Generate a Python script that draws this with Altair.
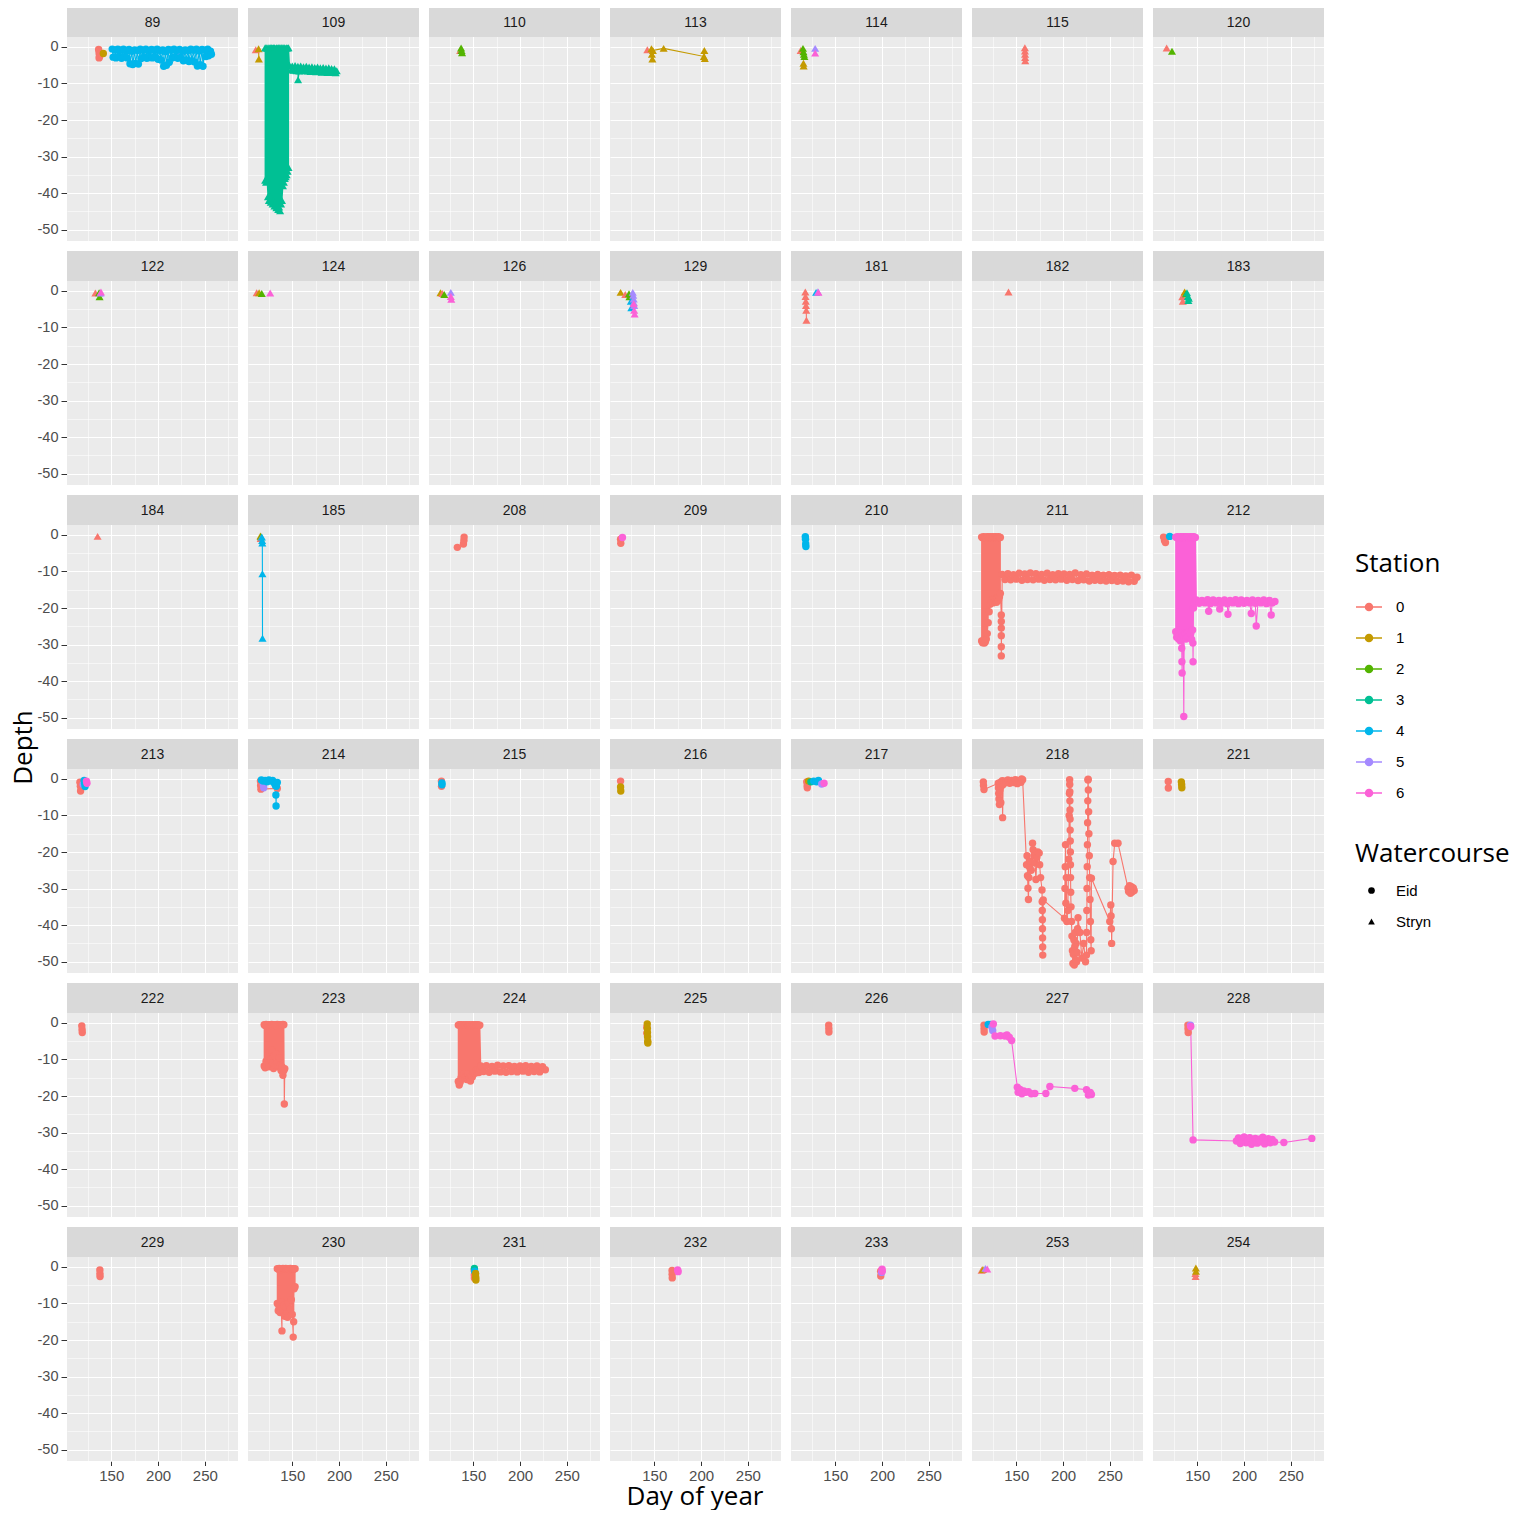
import altair as alt
import pandas as pd

STATIONS = ["0", "1", "2", "3", "4", "5", "6"]
STATION_COLORS = ["#F8766D", "#C49A00", "#53B400", "#00C094", "#00B6EB", "#A58AFF", "#FB61D7"]
PANELS = [89, 109, 110, 113, 114, 115, 120, 122, 124, 126, 129, 181, 182, 183, 184, 185,
          208, 209, 210, 211, 212, 213, 214, 215, 216, 217, 218, 221, 222, 223, 224, 225,
          226, 227, 228, 229, 230, 231, 232, 233, 253, 254]
STRYN = [109, 110, 113, 114, 115, 120, 122, 124, 126, 129, 181, 182, 183, 184, 185, 253, 254]
X_TICKS = [125, 150, 175, 200, 225, 250, 275]
Y_TICKS = [-50, -45, -40, -35, -30, -25, -20, -15, -10, -5, 0, 5]

# ---------------- panel 89 (Eid)
p89_s0_day = [136.5, 137.0, 137.2, 137.5, 137.0]
p89_s0_dep = [-0.7, -1.4, -2.0, -2.6, -3.0]
p89_s1_day = [141.5]
p89_s1_dep = [-1.8]
p89_s5_day = [224.0]
p89_s5_dep = [-1.6]
p89_s4_day = [151, 152, 154, 155, 157, 158, 160, 161, 163, 164, 166, 167, 169, 170, 172, 173, 175, 176,
              178, 179, 181, 182, 184, 185, 187, 188, 190, 191, 193, 194, 196, 197, 199, 200, 202, 203,
              205, 206, 208, 209, 211, 212, 214, 215, 217, 218, 220, 221, 223, 224, 226, 227, 229, 230,
              232, 233, 235, 236, 238, 239, 241, 242, 244, 245, 247, 248, 250, 251, 253, 254, 256, 257]
p89_s4_dep = [-0.6, -2.8, -0.8, -3.0, -0.6, -2.6, -0.9, -3.1, -0.6, -2.7, -1.0, -3.0, -0.7, -4.6, -1.2, -4.8,
              -0.8, -4.5, -1.0, -4.7, -0.6, -3.2, -0.9, -2.8, -0.6, -3.1, -1.1, -2.9, -0.7, -3.0, -0.9, -2.7,
              -0.6, -3.4, -1.0, -3.6, -0.8, -5.3, -1.3, -5.0, -0.7, -4.2, -0.9, -3.0, -0.6, -2.8, -1.0, -3.1,
              -0.7, -2.9, -1.2, -3.8, -0.8, -3.6, -1.0, -4.0, -0.6, -3.8, -0.9, -4.1, -0.6, -5.2, -1.1, -4.9,
              -0.7, -5.3, -0.9, -2.6, -0.6, -2.4, -1.2, -2.0]

# ---------------- panel 109 (Stryn)
p109_s0_day = [111.0]
p109_s0_dep = [-0.8]
p109_s1_day = [114.0, 114.3]
p109_s1_dep = [-0.5, -3.3]
p109_s3_day = [121, 121, 122, 122, 123, 123, 124, 124, 125, 125, 126, 126, 127, 127, 128, 128, 129, 129,
               130, 130, 131, 131, 132, 132, 133, 133, 134, 134, 135, 135, 136, 136, 137, 137, 138, 138,
               139, 139, 140, 140, 141, 141, 142, 142, 143, 143, 144, 144, 145, 145, 146, 146,
               147, 148.5, 150, 151.5, 153, 154.5, 156, 156.2, 157.5, 159, 160.5, 162, 163.5, 165, 166.5,
               168, 169.5, 171, 172.5, 174, 175.5, 177, 178.5, 180, 181.5, 183, 184.5, 186, 187.5, 189,
               190.5, 192, 193.5, 195, 196.5, 197.5]
p109_s3_dep = [-0.2, -36.5, -37.0, -0.3, -0.2, -36.0, -41.0, -0.4, -0.2, -42.0, -40.5, -0.3, -0.2, -42.5,
               -41.5, -0.2, -0.3, -43.0, -42.0, -0.2, -0.2, -43.5, -42.5, -0.4, -0.2, -44.0, -43.5, -0.3,
               -0.2, -44.5, -43.8, -0.2, -0.3, -44.8, -43.0, -0.2, -0.2, -42.0, -38.0, -0.3, -0.2, -37.0,
               -36.0, -0.2, -0.4, -35.5, -35.0, -0.2, -0.3, -34.0, -33.0, -0.2,
               -5.0, -6.3, -5.2, -6.4, -5.1, -6.5, -5.3, -9.0, -6.6, -5.2, -6.4, -5.4, -6.5, -5.3, -6.6,
               -5.5, -6.7, -5.4, -6.6, -5.6, -6.8, -5.5, -6.7, -5.7, -6.9, -5.6, -6.8, -5.8, -7.0, -5.7,
               -6.9, -5.9, -7.0, -6.0, -7.1, -6.5]

# ---------------- small Stryn panels
p110_s0_day = [136.0]
p110_s0_dep = [-1.0]
p110_s2_day = [137.0, 137.5, 138.0]
p110_s2_dep = [-0.3, -1.0, -1.6]
p113_s0_day = [142.6]
p113_s0_dep = [-0.8]
p113_s1_day = [147.0, 147.5, 148.0, 148.5, 160.0, 203.0, 203.5, 204.0]
p113_s1_dep = [-0.5, -2.0, -3.3, -1.0, -0.4, -2.6, -1.0, -3.2]
p114_s0_day = [113.0]
p114_s0_dep = [-1.0]
p114_s2_day = [115.5, 116.0, 116.5, 117.0]
p114_s2_dep = [-0.4, -1.3, -2.0, -2.6]
p114_s1_day = [116.0, 116.2]
p114_s1_dep = [-4.5, -5.2]
p114_s5_day = [128.5]
p114_s5_dep = [-0.4]
p114_s6_day = [128.5]
p114_s6_dep = [-1.7]
p115_s0_day = [159.2, 159.3, 159.4, 159.5, 159.6]
p115_s0_dep = [-0.2, -1.1, -2.0, -2.9, -3.8]
p120_s0_day = [117.3]
p120_s0_dep = [-0.3]
p120_s2_day = [123.0]
p120_s2_dep = [-1.2]
p122_s0_day = [133.0]
p122_s0_dep = [-0.6]
p122_s2_day = [137.0, 137.5]
p122_s2_dep = [-0.5, -1.6]
p122_s5_day = [138.5]
p122_s5_dep = [-0.6]
p122_s6_day = [139.0]
p122_s6_dep = [-0.3]
p124_s0_day = [112.0]
p124_s0_dep = [-0.5]
p124_s1_day = [114.6]
p124_s1_dep = [-0.5]
p124_s2_day = [117.4]
p124_s2_dep = [-0.7]
p124_s6_day = [126.4]
p124_s6_dep = [-0.6]
p126_s1_day = [115.0]
p126_s1_dep = [-0.5]
p126_s0_day = [117.0]
p126_s0_dep = [-0.7]
p126_s2_day = [119.0]
p126_s2_dep = [-1.0]
p126_s5_day = [126.0]
p126_s5_dep = [-0.4]
p126_s6_day = [126.0, 126.5]
p126_s6_dep = [-1.5, -2.3]
p129_s1_day = [114.0]
p129_s1_dep = [-0.4]
p129_s0_day = [119.0]
p129_s0_dep = [-1.0]
p129_s2_day = [123.0, 123.5]
p129_s2_dep = [-0.8, -1.6]
p129_s4_day = [125.0, 125.5]
p129_s4_dep = [-2.8, -4.6]
p129_s5_day = [127.0, 127.5, 128.0, 128.1, 128.5]
p129_s5_dep = [-0.4, -1.2, -2.2, -3.2, -4.0]
p129_s6_day = [128.0, 128.5, 129.0]
p129_s6_dep = [-3.5, -5.3, -6.3]
p181_s0_day = [118.0, 118.2, 118.5, 118.7, 119.0, 119.2]
p181_s0_dep = [-0.3, -1.5, -2.8, -4.0, -5.3, -8.0]
p181_s4_day = [129.5]
p181_s4_dep = [-0.4]
p181_s5_day = [131.5]
p181_s5_dep = [-0.2]
p181_s6_day = [132.0]
p181_s6_dep = [-0.4]
p182_s0_day = [141.7]
p182_s0_dep = [-0.3]
p183_s0_day = [134.0, 134.5]
p183_s0_dep = [-1.6, -2.8]
p183_s1_day = [136.5]
p183_s1_dep = [-0.3]
p183_s2_day = [138.0]
p183_s2_dep = [-0.8]
p183_s3_day = [139.0, 140.0, 140.5, 141.0]
p183_s3_dep = [-0.5, -1.5, -2.6, -2.0]
p184_s0_day = [135.4]
p184_s0_dep = [-0.4]
p185_s1_day = [116.0]
p185_s1_dep = [-0.3]
p185_s2_day = [116.5]
p185_s2_dep = [-0.5]
p185_s0_day = [116.2]
p185_s0_dep = [-1.0]
p185_s4_day = [117.5, 117.8, 118.0, 118.1, 118.2]
p185_s4_dep = [-0.6, -1.5, -2.2, -10.6, -28.3]
p253_s0_day = [113.0]
p253_s0_dep = [-0.9]
p253_s1_day = [114.4]
p253_s1_dep = [-0.7]
p253_s5_day = [117.0]
p253_s5_dep = [-0.4]
p253_s6_day = [119.0]
p253_s6_dep = [-0.6]
p254_s0_day = [148.0, 148.2]
p254_s0_dep = [-1.8, -2.6]
p254_s1_day = [148.5, 148.6]
p254_s1_dep = [-0.3, -1.2]

# ---------------- Eid panels
p208_s0_day = [133.0, 139.5, 140.0, 140.2]
p208_s0_dep = [-3.4, -2.5, -1.5, -0.6]
p209_s0_day = [114.0, 114.2]
p209_s0_dep = [-1.2, -2.3]
p209_s6_day = [116.0]
p209_s6_dep = [-0.7]
p210_s4_day = [118.0, 118.2, 118.4, 118.6]
p210_s4_dep = [-0.5, -1.2, -2.5, -3.2]

p211_s0_day = [113, 113, 114, 114, 115, 115, 116, 116, 117, 117, 118, 118, 119, 119, 120, 120, 121, 121,
               122, 122, 123, 123, 124, 124, 125, 125, 126, 126, 127, 127, 128, 128, 129, 129, 130, 130,
               131, 131, 132, 132, 133, 133,
               134, 134, 134, 134, 134, 134,
               135, 138, 141, 144, 147, 150, 153, 156, 159, 162, 165, 168, 171, 174, 177, 180, 183, 186,
               189, 192, 195, 198, 201, 204, 207, 210, 213, 216, 219, 222, 225, 228, 231, 234, 237, 240,
               243, 246, 249, 252, 255, 258, 261, 264, 267, 270, 273, 276, 279]
p211_s0_dep = [-0.6, -29.0, -29.5, -0.8, -0.5, -28.8, -29.6, -0.7, -0.6, -29.2, -28.5, -0.9, -0.5, -27.0,
               -24.0, -0.6, -0.7, -21.0, -19.0, -0.5, -0.6, -18.5, -17.8, -0.8, -0.5, -18.6, -17.5, -0.6,
               -0.7, -18.2, -17.6, -0.5, -0.6, -18.4, -17.2, -0.8, -0.5, -17.9, -17.0, -0.6, -0.7, -16.0,
               -21.9, -23.7, -25.5, -27.6, -30.6, -33.1,
               -10.8, -12.2, -10.6, -12.3, -10.9, -12.1, -10.5, -12.4, -10.7, -12.2,
               -10.4, -12.3, -10.6, -12.1, -10.8, -12.4, -10.5, -12.2, -10.9, -12.3,
               -10.6, -12.1, -10.7, -12.4, -10.8, -12.2, -10.4, -12.5, -10.9, -12.3,
               -10.7, -12.6, -11.0, -12.4, -10.8, -12.5, -11.0, -12.6, -10.9, -12.5,
               -11.1, -12.7, -11.0, -12.6, -11.2, -12.8, -11.0, -12.7, -11.6]

p212_s0_day = [114.0, 115.0, 116.0]
p212_s0_dep = [-0.6, -1.5, -2.1]
p212_s4_day = [120.5]
p212_s4_dep = [-0.4]
p212_s6_day = [127, 127, 128, 128, 129, 129, 130, 130, 131, 131, 132, 132, 133, 133, 133.2, 133.4, 133.6,
               133.8, 134, 134, 135, 135, 135.6, 136, 136, 137, 137, 138, 138, 139, 139, 140, 140, 141, 141,
               142, 142, 143, 143, 144, 144, 145, 145, 145.3, 145.5, 146, 146, 147, 147, 148, 148,
               149, 152, 155, 158, 161, 162.2, 164, 167, 170, 173, 174, 176, 179, 182, 182.8, 185, 188,
               191, 194, 197, 200, 203, 206, 207.7, 209, 212, 213, 215, 218, 221, 224, 227, 229, 230, 233]
p212_s6_dep = [-0.6, -26.5, -28.0, -0.7, -0.5, -27.0, -28.5, -0.6, -0.8, -27.5, -29.0, -0.5, -0.6, -28.0,
               -28.3, -31.0, -34.7, -37.8, -26.8, -0.7, -0.5, -27.5, -49.7, -28.2, -0.6, -0.5, -27.0,
               -28.5, -0.7, -0.6, -27.2, -28.0, -0.5, -0.8, -26.5, -27.8, -0.6, -0.5, -27.0, -28.6, -0.7,
               -0.6, -26.0, -29.6, -34.7, -20.0, -0.5, -0.6, -18.5, -18.0, -0.7,
               -17.8, -18.7, -17.9, -18.6, -17.7, -20.9, -18.8, -17.8, -18.6, -17.9, -20.3, -18.7, -17.8,
               -18.8, -21.7, -17.9, -18.6, -17.7, -18.8, -17.8, -18.7, -17.9, -18.6, -21.5, -17.8, -18.7,
               -24.9, -17.9, -18.6, -17.8, -18.8, -17.9, -21.9, -18.6, -18.2]

p213_s0_day = [116.5, 117.0, 117.2]
p213_s0_dep = [-0.9, -2.0, -3.3]
p213_s5_day = [120.0]
p213_s5_dep = [-1.5]
p213_s4_day = [121.0, 121.5, 122.0]
p213_s4_dep = [-0.4, -1.2, -2.1]
p213_s6_day = [123.5, 124.0]
p213_s6_dep = [-0.6, -1.2]
p214_s0_day = [116.0, 116.2, 116.5, 134.0]
p214_s0_dep = [-0.6, -1.8, -2.8, -2.6]
p214_s5_day = [119.0, 119.5]
p214_s5_dep = [-1.5, -2.4]
p214_s4_day = [117, 119, 121, 123, 125, 127, 129, 131, 132, 132.5, 132.7, 133, 134]
p214_s4_dep = [-0.3, -0.6, -0.4, -0.8, -0.3, -0.6, -0.4, -1.2, -1.8, -4.4, -7.4, -2.0, -1.0]
p215_s0_day = [116.0, 116.1]
p215_s0_dep = [-0.6, -2.0]
p215_s4_day = [116.5, 116.6]
p215_s4_dep = [-1.1, -1.6]
p216_s0_day = [114.0]
p216_s0_dep = [-0.6]
p216_s1_day = [114.0, 114.2]
p216_s1_dep = [-2.2, -3.3]
p217_s0_day = [119.5, 120.0, 120.1]
p217_s0_dep = [-0.8, -1.8, -2.4]
p217_s1_day = [121.5]
p217_s1_dep = [-0.6]
p217_s3_day = [124.0]
p217_s3_dep = [-0.8]
p217_s4_day = [127.0, 130.0, 132.0]
p217_s4_dep = [-0.6, -0.8, -0.4]
p217_s5_day = [135.5]
p217_s5_dep = [-1.4]
p217_s6_day = [138.0]
p217_s6_dep = [-1.2]

p218_s0_day = [114.8, 115.0, 115.5,
               130.8, 131.0, 131.2, 131.5, 132.0, 132.5, 133.0, 133.5, 134.0, 135.0, 135.4, 136.0, 137.0,
               139.0, 141.0, 143.0, 145.0, 147.0, 149.0, 151.0, 153.0, 155.0, 155.7, 156.8,
               161.0, 161.5, 162.0, 162.5, 163.0, 163.5, 164.0, 165.0, 166.0, 167.4, 168.0, 169.0, 170.0,
               171.0, 172.0, 173.0, 174.5, 175.0, 176.0, 177.5, 177.7, 177.8, 177.9, 178.0, 178.1, 178.2,
               178.3, 178.8,
               201.5, 202.0, 202.3, 202.6, 203.0, 203.5, 204.0, 205.0, 206.0, 206.5, 206.8, 207.0, 207.1,
               207.2, 207.3, 207.4, 207.5, 207.6, 207.7, 207.8, 207.9, 208.0, 208.2, 208.5, 209.0, 209.5,
               210.0, 210.5, 211.0, 211.5, 212.0, 212.5, 213.0, 213.5, 214.0, 214.5, 215.0, 215.5, 216.0,
               218.0, 220.0, 222.0, 224.0,
               225.0, 225.2, 225.4, 225.6, 225.8, 226.0, 226.2, 226.4, 226.6, 226.8, 227.0, 227.3, 227.6,
               228.0, 228.4, 228.8, 229.2, 229.6, 230.0, 230.3,
               249.9, 251.0, 251.3, 251.6, 251.9, 253.4, 255.2, 258.7, 269.4, 270.0, 271.0, 272.0, 273.0,
               274.0, 275.0, 276.0]
p218_s0_dep = [-0.8, -1.8, -2.9,
               -1.2, -2.5, -4.0, -5.5, -7.0, -3.0, -1.0, -6.5, -2.0, -0.5, -10.6, -1.5, -0.6,
               -1.0, -0.3, -1.2, -0.4, -1.0, -0.2, -1.3, -0.5, -0.9, 0.0, -0.2,
               -23.5, -21.0, -26.5, -29.9, -33.0, -27.0, -24.0, -22.5, -25.0, -17.6, -19.4, -21.0, -23.0,
               -27.5, -21.5, -20.0, -20.3, -23.5, -27.0, -30.4, -33.6, -36.0, -38.5, -41.0, -43.5, -46.0,
               -48.2, -33.1,
               -38.1, -30.0, -24.0, -18.0, -34.0, -27.0, -39.0, -36.0, -22.0, -10.0, -4.0, -0.2, -1.5,
               -3.5, -6.0, -8.5, -11.0, -14.0, -17.0, -20.0, -23.5, -27.0, -31.0, -35.0, -39.0, -43.0,
               -47.0, -50.5, -48.0, -44.0, -50.9, -46.0, -42.0, -49.5, -45.0, -50.0, -47.5, -41.0, -38.0,
               -42.0, -49.0, -45.0, -50.0,
               -48.2, -42.0, -36.0, -30.0, -24.0, -18.0, -12.0, -6.0, -0.3, -0.1, -3.0, -9.0, -15.0,
               -21.0, -27.0, -33.0, -39.0, -44.0, -47.0, -27.2,
               -39.0, -34.5, -37.5, -41.0, -45.0, -22.6, -17.6, -17.6, -29.9, -30.8, -29.2, -31.3, -29.5,
               -30.9, -29.8, -30.5]

p221_s0_day = [119.0, 119.1]
p221_s0_dep = [-0.7, -2.5]
p221_s1_day = [133.0, 133.3, 133.5]
p221_s1_dep = [-0.8, -1.6, -2.4]
p222_s0_day = [118.5, 118.8, 119.0]
p222_s0_dep = [-0.8, -1.8, -2.6]

p223_s0_day = [120, 120, 121, 121, 122, 122, 123, 123, 124, 124, 125, 125, 126, 126, 127, 127, 128, 128,
               129, 129, 130, 130, 131, 131, 132, 132, 133, 133, 134, 134, 135, 135, 136, 136, 137, 137,
               138, 138, 139, 139, 140, 140, 141, 141, 141.5, 142]
p223_s0_dep = [-0.5, -11.8, -12.3, -0.7, -0.4, -10.5, -11.5, -0.6, -0.5, -9.0, -12.0, -0.8, -0.5, -8.0,
               -10.0, -0.6, -0.4, -7.5, -11.0, -0.7, -0.5, -12.5, -9.0, -0.6, -0.5, -11.5, -8.5, -0.8,
               -0.4, -10.8, -12.0, -0.6, -0.5, -9.5, -11.8, -0.7, -0.5, -13.0, -12.0, -0.6, -0.4, -14.3,
               -13.0, -0.5, -22.2, -12.5]

p224_s0_day = [134, 134, 135, 135, 136, 136, 137, 137, 138, 138, 139, 139, 140, 140, 141, 141, 142, 142,
               143, 143, 144, 144, 145, 145, 146, 146, 147, 147, 148, 148, 149, 149, 150, 150, 151, 151,
               152, 152, 153, 153, 154, 154, 155, 155, 156, 156, 157, 157,
               158, 161, 164, 167, 170, 173, 176, 179, 182, 185, 188, 191, 194, 197, 200, 203, 206, 209,
               212, 215, 218, 221, 224, 227]
p224_s0_dep = [-0.6, -16.0, -17.0, -0.5, -0.7, -16.2, -15.0, -0.5, -0.6, -14.5, -15.2, -0.8, -0.5, -14.0,
               -15.0, -0.6, -0.7, -14.2, -15.5, -0.5, -0.6, -14.0, -15.5, -0.7, -0.5, -15.0, -15.9, -0.6,
               -0.8, -14.5, -14.8, -0.5, -0.6, -13.8, -13.5, -0.7, -0.5, -13.8, -13.0, -0.6, -0.6, -13.5,
               -12.8, -0.5, -0.7, -13.6, -12.5, -0.6,
               -11.8, -13.3, -11.7, -13.5, -11.9, -13.2, -11.6, -13.4, -11.8, -13.5, -11.7, -13.3, -11.9,
               -13.4, -11.8, -13.2, -11.7, -13.5, -11.9, -13.3, -11.8, -13.4, -12.0, -12.8]

p225_s0_day = [142.0, 142.1]
p225_s0_dep = [-1.2, -2.8]
p225_s1_day = [142.5, 142.6, 142.7, 142.8, 143.0, 143.1]
p225_s1_dep = [-0.3, -1.5, -2.6, -3.8, -5.0, -5.5]
p226_s0_day = [143.0, 143.1, 143.2]
p226_s0_dep = [-0.6, -1.5, -2.5]

p227_s0_day = [115.5, 115.6, 115.7]
p227_s0_dep = [-0.6, -1.6, -2.5]
p227_s4_day = [120.0, 122.5]
p227_s4_dep = [-0.4, -0.4]
p227_s5_day = [124.0, 124.8]
p227_s5_dep = [-1.2, -2.1]
p227_s6_day = [125.5, 127.3, 133.0, 137.9, 140.0, 142.5, 145.0, 151.1, 152.0, 154.0, 156.0, 158.0, 160.0,
               163.0, 166.0, 169.9, 181.6, 185.9, 212.5, 225.0, 227.0, 229.0, 230.3]
p227_s6_dep = [-0.3, -3.6, -3.5, -3.6, -3.3, -3.9, -4.8, -17.6, -19.0, -18.2, -19.4, -18.6, -19.0, -18.8,
               -19.4, -19.3, -19.3, -17.4, -17.9, -18.3, -19.7, -19.0, -19.6]

p228_s0_day = [140.0, 140.1, 140.3]
p228_s0_dep = [-0.6, -1.6, -2.6]
p228_s5_day = [142.7]
p228_s5_dep = [-0.6]
p228_s6_day = [143.0, 145.5, 191.8, 194.0, 196.0, 198.0, 200.0, 202.0, 204.0, 206.0, 208.0, 210.0, 212.0,
               214.0, 216.0, 218.0, 220.0, 222.0, 224.0, 226.0, 228.0, 230.0, 232.6, 242.5, 272.4]
p228_s6_dep = [-1.0, -32.0, -32.3, -31.5, -33.0, -32.0, -31.2, -32.8, -32.2, -31.4, -33.2, -32.0, -31.6,
               -32.9, -31.8, -32.5, -31.3, -33.1, -32.2, -31.7, -32.8, -31.9, -32.6, -32.7, -31.6]

p229_s0_day = [137.8, 137.9, 138.0]
p229_s0_dep = [-0.8, -1.8, -2.6]
p230_s0_day = [134, 134, 135, 135, 136, 136, 137, 137, 138, 138, 139, 139, 140, 140, 141, 141, 142, 142,
               143, 143, 144, 144, 145, 145, 146, 146, 147, 147, 148, 148, 149, 149, 150, 150, 151, 151,
               151.5, 152, 152, 153, 153]
p230_s0_dep = [-0.5, -10.0, -12.0, -0.6, -0.4, -11.0, -12.5, -0.5, -0.7, -9.5, -17.5, -0.5, -0.4, -12.0,
               -10.5, -0.6, -0.5, -13.5, -11.0, -0.4, -0.6, -12.8, -13.8, -0.5, -0.5, -10.0, -12.0, -0.7,
               -0.4, -11.5, -9.0, -0.5, -0.6, -13.0, -19.2, -0.5, -15.0, -0.6, -6.0, -5.4, -0.5]
p231_s0_day = [151.0, 151.1, 151.2]
p231_s0_dep = [-1.0, -2.2, -3.0]
p231_s3_day = [151.2]
p231_s3_dep = [-0.4]
p231_s4_day = [151.5]
p231_s4_dep = [-1.2]
p231_s1_day = [152.5, 152.6, 152.8]
p231_s1_dep = [-1.8, -2.8, -3.6]
p232_s0_day = [169.0, 169.1, 169.2]
p232_s0_dep = [-1.0, -2.0, -3.0]
p232_s6_day = [175.0, 175.5]
p232_s6_dep = [-0.8, -1.3]
p233_s0_day = [198.5, 198.6]
p233_s0_dep = [-1.2, -2.5]
p233_s5_day = [199.5]
p233_s5_dep = [-1.5]
p233_s6_day = [200.0, 200.2]
p233_s6_dep = [-0.6, -1.2]

SERIES = [
    (89, "0", p89_s0_day, p89_s0_dep), (89, "1", p89_s1_day, p89_s1_dep),
    (89, "5", p89_s5_day, p89_s5_dep), (89, "4", p89_s4_day, p89_s4_dep),
    (109, "0", p109_s0_day, p109_s0_dep), (109, "1", p109_s1_day, p109_s1_dep),
    (109, "3", p109_s3_day, p109_s3_dep),
    (110, "0", p110_s0_day, p110_s0_dep), (110, "2", p110_s2_day, p110_s2_dep),
    (113, "0", p113_s0_day, p113_s0_dep), (113, "1", p113_s1_day, p113_s1_dep),
    (114, "0", p114_s0_day, p114_s0_dep), (114, "2", p114_s2_day, p114_s2_dep),
    (114, "1", p114_s1_day, p114_s1_dep), (114, "5", p114_s5_day, p114_s5_dep),
    (114, "6", p114_s6_day, p114_s6_dep),
    (115, "0", p115_s0_day, p115_s0_dep),
    (120, "0", p120_s0_day, p120_s0_dep), (120, "2", p120_s2_day, p120_s2_dep),
    (122, "0", p122_s0_day, p122_s0_dep), (122, "2", p122_s2_day, p122_s2_dep),
    (122, "5", p122_s5_day, p122_s5_dep), (122, "6", p122_s6_day, p122_s6_dep),
    (124, "0", p124_s0_day, p124_s0_dep), (124, "1", p124_s1_day, p124_s1_dep),
    (124, "2", p124_s2_day, p124_s2_dep), (124, "6", p124_s6_day, p124_s6_dep),
    (126, "1", p126_s1_day, p126_s1_dep), (126, "0", p126_s0_day, p126_s0_dep),
    (126, "2", p126_s2_day, p126_s2_dep), (126, "5", p126_s5_day, p126_s5_dep),
    (126, "6", p126_s6_day, p126_s6_dep),
    (129, "1", p129_s1_day, p129_s1_dep), (129, "0", p129_s0_day, p129_s0_dep),
    (129, "2", p129_s2_day, p129_s2_dep), (129, "4", p129_s4_day, p129_s4_dep),
    (129, "5", p129_s5_day, p129_s5_dep), (129, "6", p129_s6_day, p129_s6_dep),
    (181, "0", p181_s0_day, p181_s0_dep), (181, "4", p181_s4_day, p181_s4_dep),
    (181, "5", p181_s5_day, p181_s5_dep), (181, "6", p181_s6_day, p181_s6_dep),
    (182, "0", p182_s0_day, p182_s0_dep),
    (183, "0", p183_s0_day, p183_s0_dep), (183, "1", p183_s1_day, p183_s1_dep),
    (183, "2", p183_s2_day, p183_s2_dep), (183, "3", p183_s3_day, p183_s3_dep),
    (184, "0", p184_s0_day, p184_s0_dep),
    (185, "1", p185_s1_day, p185_s1_dep), (185, "2", p185_s2_day, p185_s2_dep),
    (185, "0", p185_s0_day, p185_s0_dep), (185, "4", p185_s4_day, p185_s4_dep),
    (208, "0", p208_s0_day, p208_s0_dep),
    (209, "0", p209_s0_day, p209_s0_dep), (209, "6", p209_s6_day, p209_s6_dep),
    (210, "4", p210_s4_day, p210_s4_dep),
    (211, "0", p211_s0_day, p211_s0_dep),
    (212, "0", p212_s0_day, p212_s0_dep), (212, "4", p212_s4_day, p212_s4_dep),
    (212, "6", p212_s6_day, p212_s6_dep),
    (213, "0", p213_s0_day, p213_s0_dep), (213, "5", p213_s5_day, p213_s5_dep),
    (213, "4", p213_s4_day, p213_s4_dep), (213, "6", p213_s6_day, p213_s6_dep),
    (214, "0", p214_s0_day, p214_s0_dep), (214, "5", p214_s5_day, p214_s5_dep),
    (214, "4", p214_s4_day, p214_s4_dep),
    (215, "0", p215_s0_day, p215_s0_dep), (215, "4", p215_s4_day, p215_s4_dep),
    (216, "0", p216_s0_day, p216_s0_dep), (216, "1", p216_s1_day, p216_s1_dep),
    (217, "0", p217_s0_day, p217_s0_dep), (217, "1", p217_s1_day, p217_s1_dep),
    (217, "3", p217_s3_day, p217_s3_dep), (217, "4", p217_s4_day, p217_s4_dep),
    (217, "5", p217_s5_day, p217_s5_dep), (217, "6", p217_s6_day, p217_s6_dep),
    (218, "0", p218_s0_day, p218_s0_dep),
    (221, "0", p221_s0_day, p221_s0_dep), (221, "1", p221_s1_day, p221_s1_dep),
    (222, "0", p222_s0_day, p222_s0_dep),
    (223, "0", p223_s0_day, p223_s0_dep),
    (224, "0", p224_s0_day, p224_s0_dep),
    (225, "0", p225_s0_day, p225_s0_dep), (225, "1", p225_s1_day, p225_s1_dep),
    (226, "0", p226_s0_day, p226_s0_dep),
    (227, "0", p227_s0_day, p227_s0_dep), (227, "4", p227_s4_day, p227_s4_dep),
    (227, "5", p227_s5_day, p227_s5_dep), (227, "6", p227_s6_day, p227_s6_dep),
    (228, "0", p228_s0_day, p228_s0_dep), (228, "5", p228_s5_day, p228_s5_dep),
    (228, "6", p228_s6_day, p228_s6_dep),
    (229, "0", p229_s0_day, p229_s0_dep),
    (230, "0", p230_s0_day, p230_s0_dep),
    (231, "0", p231_s0_day, p231_s0_dep), (231, "3", p231_s3_day, p231_s3_dep),
    (231, "4", p231_s4_day, p231_s4_dep), (231, "1", p231_s1_day, p231_s1_dep),
    (232, "0", p232_s0_day, p232_s0_dep), (232, "6", p232_s6_day, p232_s6_dep),
    (233, "0", p233_s0_day, p233_s0_dep), (233, "5", p233_s5_day, p233_s5_dep),
    (233, "6", p233_s6_day, p233_s6_dep),
    (253, "0", p253_s0_day, p253_s0_dep), (253, "1", p253_s1_day, p253_s1_dep),
    (253, "5", p253_s5_day, p253_s5_dep), (253, "6", p253_s6_day, p253_s6_dep),
    (254, "0", p254_s0_day, p254_s0_dep), (254, "1", p254_s1_day, p254_s1_dep),
]

rows = []
seq = 0
for fish, st, days, deps in SERIES:
    if len(days) != len(deps):
        raise ValueError(f"panel {fish} station {st}: {len(days)} days vs {len(deps)} depths")
    water = "Stryn" if fish in STRYN else "Eid"
    for d, v in zip(days, deps):
        rows.append({"fish": fish, "station": st, "water": water, "day": d, "depth": v, "seq": seq})
        seq += 1
df = pd.DataFrame(rows)

W, H = 171, 234
STRIP = 30
X_DOMAIN = [102.7, 285.4]
Y_DOMAIN = [-53.1, 10.92]

x_axis = alt.Axis(
    values=X_TICKS, title=None, domain=False, labelOverlap=False, tickSize=4.5, labelPadding=3,
    labelFontSize=15,
    labelExpr="datum.value % 50 === 0 ? '' + datum.value : ''",
    tickOpacity={"condition": {"test": "datum.value % 50 === 0", "value": 1}, "value": 0},
    gridWidth={"condition": {"test": "datum.value % 50 === 0", "value": 1.1}, "value": 0.55},
)
y_axis = alt.Axis(
    values=Y_TICKS, title=None, domain=False, labelOverlap=False, tickSize=6, labelPadding=3,
    labelFontSize=14.5,
    labelExpr="datum.value % 10 === 0 && datum.value <= 0 ? '' + datum.value : ''",
    tickOpacity={"condition": {"test": "datum.value % 10 === 0 && datum.value <= 0", "value": 1}, "value": 0},
    gridWidth={"condition": {"test": "datum.value % 10 === 0", "value": 1.1}, "value": 0.55},
)
X = alt.X("day:Q", scale=alt.Scale(domain=X_DOMAIN, nice=False, zero=False), axis=x_axis)
Y = alt.Y("depth:Q", scale=alt.Scale(domain=Y_DOMAIN, nice=False, zero=False), axis=y_axis)

LX, LY = 1288, 544
LINE_DOT = "M-1,0L1,0M0.27,0A0.27,0.27,0,1,1,-0.27,0A0.27,0.27,0,1,1,0.27,0Z"
leg_common = dict(
    orient="none", legendX=LX, titleFont="Open Sans", titleFontSize=26, titleFontWeight="normal",
    titleColor="black", labelFont="Liberation Sans", labelFontSize=15, labelColor="black",
)
leg_station = alt.Legend(title="Station", legendY=LY, symbolType=LINE_DOT, symbolSize=676,
                         symbolStrokeWidth=1.5, labelOffset=13, rowPadding=9, titlePadding=16,
                         **leg_common)
leg_water = alt.Legend(title="Watercourse", legendY=LY + 290, symbolSize=45, symbolFillColor="black",
                       symbolStrokeColor="black", symbolStrokeWidth=0, symbolOffset=9, labelOffset=17,
                       rowPadding=15, titlePadding=16, **leg_common)

st_scale = alt.Scale(domain=STATIONS, range=STATION_COLORS)

lines = alt.Chart().mark_line(strokeWidth=1.1).encode(
    x=X, y=Y,
    stroke=alt.Stroke("station:N", scale=st_scale, legend=leg_station),
    order=alt.Order("seq:Q"),
)
points = alt.Chart().mark_point(filled=True, opacity=1).encode(
    x=X, y=Y,
    fill=alt.Fill("station:N", scale=st_scale, legend=leg_station),
    shape=alt.Shape("water:N", scale=alt.Scale(domain=["Eid", "Stryn"], range=["circle", "triangle-up"]),
                    legend=leg_water),
    size=alt.condition("datum.water === 'Stryn'", alt.value(65), alt.value(55)),
    order=alt.Order("seq:Q"),
)
strip_rect = alt.Chart().transform_aggregate(n="count()", groupby=["fish"]).mark_rect(
    fill="#D9D9D9").encode(x=alt.value(0), x2=alt.value(W), y=alt.value(0), y2=alt.value(STRIP))
strip_text = alt.Chart().transform_aggregate(n="count()", groupby=["fish"]).mark_text(
    font="Liberation Sans", fontSize=14, color="#1A1A1A", baseline="middle", align="center").encode(
    text="fish:N", x=alt.value(W / 2), y=alt.value(STRIP / 2 + 1))

panel = alt.layer(lines, points, strip_rect, strip_text).properties(width=W, height=H)

NBSP = "\u00a0"
ZWSP = "\u200b"
chart = panel.facet(
    data=df,
    facet=alt.Facet("fish:O", sort=PANELS, title="Depth" + NBSP * 4 + ZWSP,
                    header=alt.Header(labels=False, labelFontSize=0, labelPadding=0, labelExpr="''",
                                      titleOrient="left", titleFont="Open Sans",
                                      titleFontSize=26, titleFontWeight="normal", titleColor="black",
                                      titlePadding=0)),
    columns=7, spacing=10,
).properties(
    title=alt.TitleParams("Day of year", orient="bottom", anchor="middle", font="Open Sans", fontSize=26,
                          fontWeight="normal", color="black", offset=0, dx=628, frame="group"),
    padding={"left": 2, "top": -1, "right": 5, "bottom": 0},
).configure_view(fill="#EBEBEB", stroke=None).configure_axis(
    tickColor="#333333", labelColor="#4D4D4D", labelFont="Liberation Sans", gridColor="white",
)

chart.save("out.html", embed_options={"renderer": "svg", "actions": False})
